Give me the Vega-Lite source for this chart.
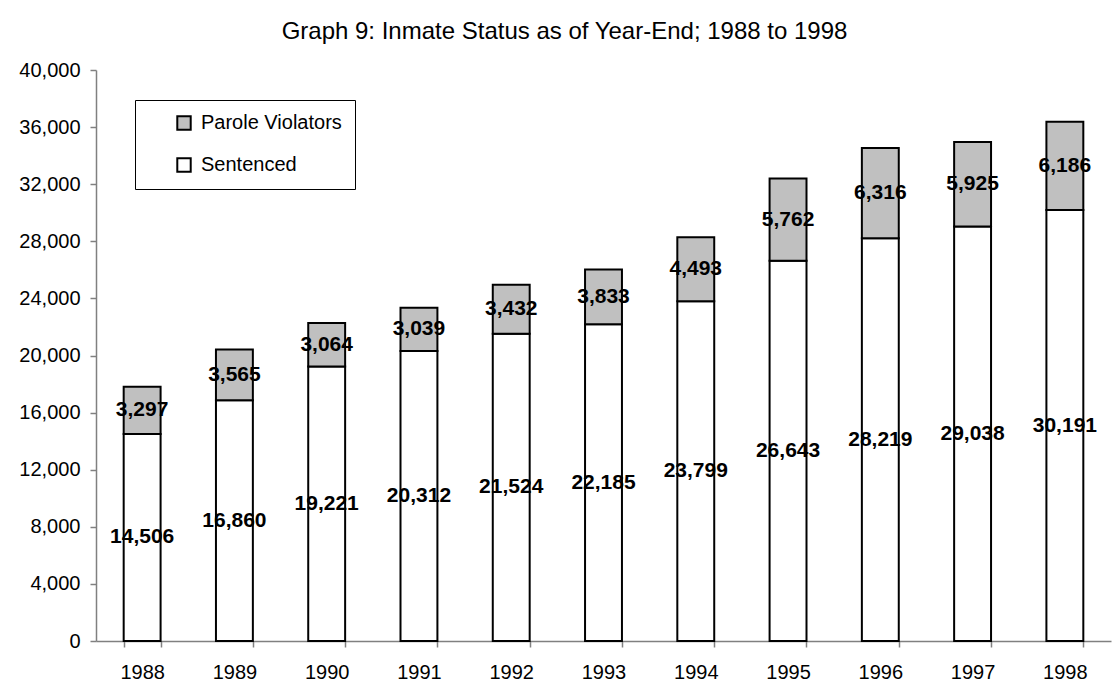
{
  "$schema": "https://vega.github.io/schema/vega-lite/v6.json",
  "width": 1015,
  "height": 571,
  "autosize": "none",
  "padding": {"left": 96, "top": 70, "right": 5, "bottom": 52},
  "background": "white",
  "config": {
    "view": {"stroke": null},
    "font": "Liberation Sans",
    "axis": {
      "labelFont": "Liberation Sans",
      "labelFontSize": 20,
      "labelColor": "black",
      "domainColor": "#808080",
      "tickColor": "#808080",
      "domainWidth": 1.5,
      "tickWidth": 1.5,
      "grid": false,
      "title": null
    }
  },
  "title": {
    "text": "Graph 9: Inmate Status as of Year-End; 1988 to 1998",
    "font": "Liberation Sans",
    "fontSize": 24,
    "fontWeight": "normal",
    "color": "black",
    "anchor": "middle",
    "dx": -39,
    "offset": 16
  },
  "data": {
    "values": [
      {"year": "1988", "category": "Sentenced", "count": 14506},
      {"year": "1988", "category": "Parole Violators", "count": 3297},
      {"year": "1989", "category": "Sentenced", "count": 16860},
      {"year": "1989", "category": "Parole Violators", "count": 3565},
      {"year": "1990", "category": "Sentenced", "count": 19221},
      {"year": "1990", "category": "Parole Violators", "count": 3064},
      {"year": "1991", "category": "Sentenced", "count": 20312},
      {"year": "1991", "category": "Parole Violators", "count": 3039},
      {"year": "1992", "category": "Sentenced", "count": 21524},
      {"year": "1992", "category": "Parole Violators", "count": 3432},
      {"year": "1993", "category": "Sentenced", "count": 22185},
      {"year": "1993", "category": "Parole Violators", "count": 3833},
      {"year": "1994", "category": "Sentenced", "count": 23799},
      {"year": "1994", "category": "Parole Violators", "count": 4493},
      {"year": "1995", "category": "Sentenced", "count": 26643},
      {"year": "1995", "category": "Parole Violators", "count": 5762},
      {"year": "1996", "category": "Sentenced", "count": 28219},
      {"year": "1996", "category": "Parole Violators", "count": 6316},
      {"year": "1997", "category": "Sentenced", "count": 29038},
      {"year": "1997", "category": "Parole Violators", "count": 5925},
      {"year": "1998", "category": "Sentenced", "count": 30191},
      {"year": "1998", "category": "Parole Violators", "count": 6186}
    ]
  },
  "transform": [
    {"stack": "count", "groupby": ["year"], "sort": [{"field": "category", "order": "descending"}], "as": ["lo", "hi"]}
  ],
  "layer": [
    {
      "mark": {"type": "bar", "stroke": "black", "strokeWidth": 2},
      "encoding": {
        "x": {
          "field": "year",
          "type": "ordinal",
          "scale": {"paddingInner": 0.6, "paddingOuter": 0.3},
          "axis": {"title": null, "labelAngle": 0, "tickBand": "extent", "tickSize": 6, "labelPadding": 15}
        },
        "y": {
          "field": "lo",
          "type": "quantitative",
          "scale": {"domain": [0, 40000], "nice": false},
          "axis": {"title": null, "values": [0, 4000, 8000, 12000, 16000, 20000, 24000, 28000, 32000, 36000, 40000], "format": ",d", "tickSize": 6, "labelPadding": 10}
        },
        "y2": {"field": "hi"},
        "fill": {
          "field": "category",
          "type": "nominal",
          "scale": {"domain": ["Parole Violators", "Sentenced"], "range": ["#C0C0C0", "#FFFFFF"]},
          "legend": {
            "orient": "none",
            "legendX": 39,
            "legendY": 30,
            "title": null,
            "strokeColor": "black",
            "fillColor": "white",
            "padding": 13,
            "rowPadding": 20,
            "symbolOffset": 26,
            "symbolType": "square",
            "symbolSize": 180,
            "symbolStrokeColor": "black",
            "symbolStrokeWidth": 2,
            "labelFont": "Liberation Sans",
            "labelFontSize": 20,
            "labelColor": "black",
            "labelOffset": 7
          }
        }
      }
    },
    {
      "transform": [{"fold": ["lo", "hi"], "as": ["edge", "pos"]}],
      "mark": {"type": "text", "font": "Liberation Sans", "fontSize": 21, "fontWeight": "bold", "color": "black"},
      "encoding": {
        "x": {"field": "year", "type": "ordinal"},
        "y": {"aggregate": "mean", "field": "pos", "type": "quantitative"},
        "detail": {"field": "category"},
        "text": {"aggregate": "max", "field": "count", "type": "quantitative", "format": ",d"}
      }
    }
  ]
}
